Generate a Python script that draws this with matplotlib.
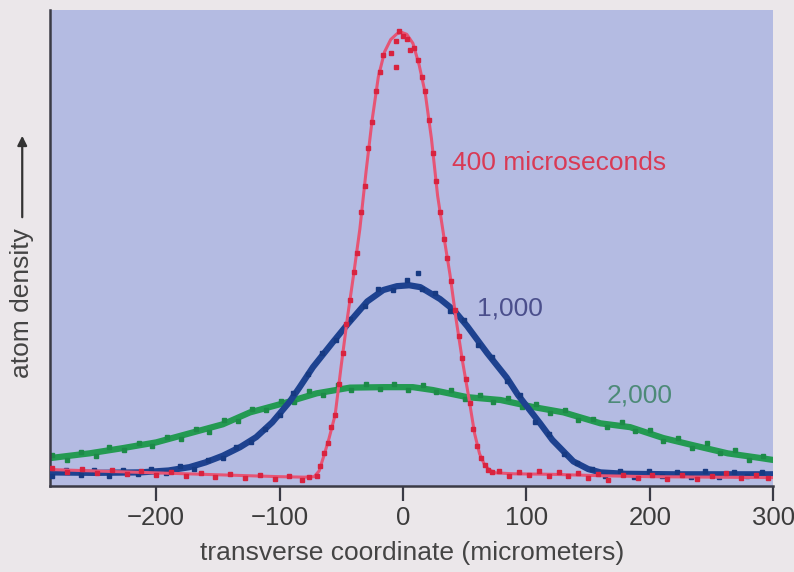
import matplotlib
matplotlib.use("Agg")
import matplotlib.pyplot as plt

plt.rcParams['font.family'] = ['Liberation Sans', 'DejaVu Sans']

# fitted profiles (transverse position in micrometers, density in arbitrary units)
red_fit_x = [-286, -250, -200, -150, -100, -80, -72, -68, -64, -60, -55, -50, -45, -40,
             -35, -30, -25, -20, -15, -10, -5, -1, 3, 8, 13, 18, 23, 28, 33, 38, 43, 48,
             53, 58, 62, 66, 70, 75, 90, 120, 160, 200, 250, 300]
red_fit_y = [0.035, 0.032, 0.028, 0.024, 0.020, 0.019, 0.020, 0.032, 0.065, 0.100, 0.150,
             0.255, 0.355, 0.445, 0.540, 0.660, 0.770, 0.860, 0.912, 0.938, 0.950, 0.953,
             0.949, 0.930, 0.885, 0.825, 0.730, 0.610, 0.525, 0.445, 0.350, 0.265, 0.190,
             0.110, 0.068, 0.045, 0.034, 0.028, 0.026, 0.025, 0.022, 0.020, 0.019, 0.018]

blue_fit_x = [-286, -250, -213, -190, -173, -160, -146, -132, -119, -106, -92, -84, -73,
              -57, -45, -29, -16, -5, 5, 14, 30, 41, 52, 68, 84, 93, 111, 121, 138, 150,
              160, 180, 220, 260, 300]
blue_fit_y = [0.029, 0.028, 0.029, 0.033, 0.040, 0.050, 0.064, 0.082, 0.103, 0.134, 0.177,
              0.207, 0.250, 0.302, 0.340, 0.388, 0.412, 0.420, 0.422, 0.418, 0.393, 0.370,
              0.336, 0.280, 0.228, 0.192, 0.132, 0.097, 0.052, 0.036, 0.029, 0.026, 0.025,
              0.025, 0.025]

green_fit_x = [-286, -254, -227, -200, -173, -146, -124, -97, -70, -43, -16, 8, 24, 52,
               79, 106, 130, 160, 184, 211, 235, 263, 290, 300]
green_fit_y = [0.059, 0.069, 0.080, 0.092, 0.111, 0.130, 0.155, 0.174, 0.195, 0.207, 0.208,
               0.208, 0.202, 0.187, 0.181, 0.166, 0.155, 0.132, 0.124, 0.101, 0.086, 0.069,
               0.059, 0.055]

# measured points
red_pts_x = [-284, -272, -260, -248, -236, -224, -212, -200, -188, -176, -164, -152, -140,
             -128, -116, -104, -92, -82, -76, -70, -67, -64, -61, -58, -55, -52, -49, -46,
             -43, -40, -37, -34, -31, -28, -25, -22, -19, -16, -10, -6, -6, -3, 0, 3, 6, 9,
             12, 15, 18, 21, 24, 27, 30, 33, 36, 39, 42, 45, 48, 51, 54, 57, 60, 63, 66, 69,
             72, 78, 86, 94, 102, 110, 118, 126, 134, 142, 150, 158, 166, 178, 190, 202,
             214, 226, 238, 250, 262, 274, 286, 296]
red_pts_y = [0.038, 0.030, 0.036, 0.028, 0.033, 0.026, 0.031, 0.024, 0.030, 0.022, 0.028,
             0.020, 0.026, 0.018, 0.024, 0.016, 0.022, 0.012, 0.020, 0.022, 0.042, 0.070,
             0.090, 0.125, 0.150, 0.215, 0.280, 0.340, 0.390, 0.450, 0.490, 0.575, 0.630,
             0.710, 0.765, 0.830, 0.870, 0.905, 0.910, 0.935, 0.880, 0.955, 0.945, 0.940,
             0.915, 0.920, 0.895, 0.860, 0.830, 0.770, 0.700, 0.640, 0.575, 0.520, 0.480,
             0.430, 0.370, 0.315, 0.270, 0.225, 0.175, 0.120, 0.085, 0.060, 0.045, 0.035,
             0.030, 0.032, 0.022, 0.030, 0.024, 0.031, 0.021, 0.029, 0.022, 0.028, 0.018,
             0.026, 0.012, 0.024, 0.017, 0.023, 0.015, 0.024, 0.016, 0.022, 0.027, 0.017,
             0.024, 0.018]

blue_pts_x = [-284, -273, -261, -250, -238, -227, -215, -204, -192, -181, -169, -158, -146,
              -135, -123, -112, -100, -89, -77, -66, -54, -43, -31, -20, -8, 3, 12, 15, 26,
              38, 49, 61, 72, 84, 95, 107, 118, 130, 141, 153, 164, 176, 187, 199, 210,
              222, 233, 245, 256, 268, 279, 291]
blue_pts_y = [0.022, 0.035, 0.024, 0.033, 0.022, 0.034, 0.025, 0.036, 0.028, 0.042, 0.037,
              0.056, 0.060, 0.083, 0.092, 0.120, 0.150, 0.196, 0.236, 0.280, 0.306, 0.352,
              0.378, 0.414, 0.412, 0.432, 0.447, 0.414, 0.405, 0.368, 0.348, 0.296, 0.272,
              0.221, 0.192, 0.135, 0.110, 0.068, 0.048, 0.036, 0.022, 0.032, 0.020, 0.031,
              0.021, 0.030, 0.019, 0.031, 0.020, 0.030, 0.021, 0.029]

green_pts_x = [-284, -272, -261, -249, -238, -226, -214, -203, -191, -180, -168, -157, -145,
               -134, -122, -111, -99, -88, -76, -65, -53, -42, -30, -19, -7, 4, 16, 27, 39,
               50, 62, 73, 85, 96, 108, 119, 131, 142, 154, 165, 177, 188, 200, 211, 223,
               234, 246, 257, 269, 280, 292]
green_pts_y = [0.066, 0.056, 0.071, 0.064, 0.082, 0.075, 0.091, 0.084, 0.104, 0.099, 0.121,
               0.114, 0.138, 0.137, 0.162, 0.160, 0.178, 0.176, 0.199, 0.191, 0.212, 0.201,
               0.215, 0.204, 0.214, 0.203, 0.212, 0.197, 0.201, 0.183, 0.191, 0.176, 0.185,
               0.166, 0.172, 0.153, 0.160, 0.140, 0.142, 0.124, 0.134, 0.116, 0.117, 0.094,
               0.101, 0.081, 0.090, 0.070, 0.075, 0.056, 0.064]

x_ticks = [-200, -100, 0, 100, 200, 300]

fig = plt.figure(figsize=(7.94, 5.72), dpi=100, facecolor='#ebe7ea')
ax = fig.add_axes([0.063, 0.150, 0.911, 0.8325])
ax.set_facecolor('#b4bbe2')

# green: 2,000 microseconds
ax.plot(green_fit_x, green_fit_y, color='#249a52', lw=4.5, solid_capstyle='butt', zorder=2)
ax.plot(green_pts_x, green_pts_y, 's', color='#1d8a48', ms=3, zorder=2)

# blue: 1,000 microseconds
ax.plot(blue_fit_x, blue_fit_y, color='#1e4290', lw=4.5, solid_capstyle='butt', zorder=3)
ax.plot(blue_pts_x, blue_pts_y, 's', color='#173a82', ms=3, zorder=3)

# red: 400 microseconds
ax.plot(red_fit_x, red_fit_y, color='#e65575', lw=2.2, zorder=4)
ax.plot(red_pts_x, red_pts_y, 's', color='#d8233f', ms=3, zorder=4)

ax.text(40, 0.679, '400 microseconds', color='#d93a55', fontsize=19, va='center')
ax.text(60, 0.374, '1,000', color='#4b4f8c', fontsize=19, va='center')
ax.text(165, 0.191, '2,000', color='#4d8a78', fontsize=19, va='center')

ax.set_xlim(-286, 300)
ax.set_ylim(0, 1)
ax.set_xticks(x_ticks)
ax.set_yticks([])
ax.tick_params(axis='x', direction='out', length=11, width=1.6, color='#3a3a45',
               labelsize=18.5, labelcolor='#3c3c3c', pad=3)
for side in ['top', 'right']:
    ax.spines[side].set_visible(False)
for side in ['left', 'bottom']:
    ax.spines[side].set_color('#3a3a45')
    ax.spines[side].set_linewidth(1.8)

ax.set_xlabel('transverse coordinate (micrometers)', fontsize=19, color='#444444', labelpad=8)

# rotated axis title with an arrow pointing up
fig.text(0.028, 1 - 303 / 572, 'atom density', rotation=90, fontsize=19, color='#444444',
         ha='center', va='center')
fig.patches.append(matplotlib.patches.FancyArrowPatch(
    (0.028, 1 - 220 / 572), (0.028, 1 - 133 / 572), transform=fig.transFigure,
    arrowstyle='-|>', mutation_scale=14, lw=1.6, color='#333333'))

fig.savefig('out.png', dpi=100, facecolor=fig.get_facecolor())
